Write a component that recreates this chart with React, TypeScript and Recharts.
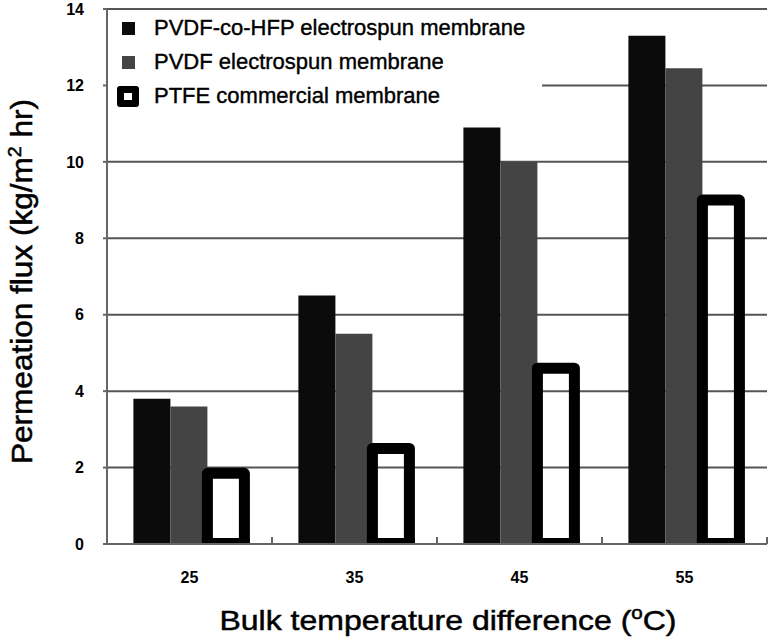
import { BarChart, Bar, XAxis, YAxis, CartesianGrid, Legend, Label } from "recharts";

const temps = ["25", "35", "45", "55"];
const copolymer = [3.8, 6.5, 10.9, 13.3];
const pvdf = [3.6, 5.5, 10.0, 12.45];
const ptfe = [1.85, 2.5, 4.6, 9.0];
const yTicks = [0, 2, 4, 6, 8, 10, 12, 14];

const seriesNames = [
  "PVDF-co-HFP electrospun membrane",
  "PVDF electrospun membrane",
  "PTFE commercial membrane",
];

const data = temps.map((t, i) => ({
  temp: t,
  copolymer: copolymer[i],
  pvdf: pvdf[i],
  ptfe: ptfe[i],
}));

const FONT = "'Liberation Sans', Arial, sans-serif";

function LegendBox() {
  const marker = (i: number) => {
    if (i === 2) {
      return (
        <div style={{ width: 8, height: 7, border: "7px solid #000", borderRadius: 3, background: "#fff" }} />
      );
    }
    return <div style={{ width: 13, height: 13, background: i === 0 ? "#0b0b0b" : "#444" }} />;
  };
  return (
    <div style={{ width: 434, height: 100, background: "#fff", position: "relative", fontFamily: FONT }}>
      {seriesNames.map((name, i) => (
        <div
          key={name}
          style={{ position: "absolute", left: 0, top: 1 + i * 34, height: 30, display: "flex", alignItems: "center" }}
        >
          <div style={{ width: 48, display: "flex", justifyContent: "center", marginLeft: -4 }}>{marker(i)}</div>
          <span
            style={{
              fontSize: 22,
              color: "#000",
              marginLeft: 2,
              whiteSpace: "nowrap",
              WebkitTextStroke: "0.4px #000",
            }}
          >
            {name}
          </span>
        </div>
      ))}
    </div>
  );
}

// outline bar whose bottom edge stays above the axis line
function PtfeShape(props: any) {
  const { x, y, width, height } = props;
  const s = 11;
  return (
    <g>
      <path
        d={`M${x},${y + height} L${x},${y} L${x + width},${y} L${x + width},${y + height}`}
        fill="none"
        stroke="#000"
        strokeWidth={s}
        strokeLinejoin="round"
      />
      <rect x={x - s / 2} y={y + height - 6} width={width + s} height={6} fill="#000" />
    </g>
  );
}

function XTicks(props: any) {
  const { x, y, payload } = props;
  const axisY = y - 28;
  const edge = x + (payload.offset || 0);
  return (
    <g>
      <line x1={edge} x2={edge} y1={axisY} y2={axisY - 7} stroke="#666" strokeWidth={2} />
      <text
        x={x}
        y={y}
        dy="0.71em"
        textAnchor="middle"
        fontFamily={FONT}
        fontSize={16}
        fontWeight="bold"
        fill="#000"
      >
        {payload.value}
      </text>
    </g>
  );
}

function YTitle(props: any) {
  const { viewBox } = props;
  const cy = viewBox.y + viewBox.height / 2 + 5;
  const bx = 32;
  return (
    <text
      x={bx}
      y={cy}
      transform={`rotate(-90, ${bx}, ${cy})`}
      textAnchor="middle"
      fontFamily={FONT}
      fontSize={29}
      textLength={365}
      lengthAdjust="spacingAndGlyphs"
      fill="#000"
      stroke="#000"
      strokeWidth={0.5}
    >
      Permeation flux (kg/m
      <tspan fontSize={18} dy={-11}>2</tspan>
      <tspan dy={11}> hr)</tspan>
    </text>
  );
}

function XTitle(props: any) {
  const { viewBox } = props;
  const cx = viewBox.x + viewBox.width / 2 + 11;
  return (
    <text
      x={cx}
      y={630}
      textAnchor="middle"
      fontFamily={FONT}
      fontSize={28}
      textLength={457}
      lengthAdjust="spacingAndGlyphs"
      fill="#000"
      stroke="#000"
      strokeWidth={0.5}
    >
      Bulk temperature difference (
      <tspan fontSize={18} dy={-11}>o</tspan>
      <tspan dy={11}>C)</tspan>
    </text>
  );
}

export default function App() {
  return (
    <div style={{ position: "absolute", left: 0, top: 0, background: "#fff" }}>
      <BarChart
        width={773}
        height={643}
        data={data}
        margin={{ top: 9, right: 6, left: 0, bottom: 0 }}
        barCategoryGap="16%"
        barGap={0}
      >
        <CartesianGrid vertical={false} stroke="#555" strokeWidth={2} />
        <XAxis
          dataKey="temp"
          height={99}
          tickLine={false}
          tickSize={0}
          tickMargin={28}
          axisLine={{ stroke: "#666", strokeWidth: 2 }}
          tick={<XTicks />}
        >
          <Label content={<XTitle />} />
        </XAxis>
        <YAxis
          width={107}
          domain={[0, 14]}
          ticks={yTicks}
          interval={0}
          tickSize={4}
          tickMargin={19}
          tickLine={{ stroke: "#666", strokeWidth: 2 }}
          axisLine={{ stroke: "#666", strokeWidth: 2 }}
          tick={{ fill: "#000", fontSize: 16, fontWeight: "bold", fontFamily: FONT }}
        >
          <Label content={<YTitle />} />
        </YAxis>
        <Legend
          layout="vertical"
          align="center"
          verticalAlign="middle"
          wrapperStyle={{ left: 108, top: 12, width: 434, height: 100 }}
          content={<LegendBox />}
        />
        <Bar dataKey="copolymer" fill="#0b0b0b" isAnimationActive={false} />
        <Bar dataKey="pvdf" fill="#444" isAnimationActive={false} />
        <Bar dataKey="ptfe" shape={<PtfeShape />} isAnimationActive={false} />
      </BarChart>
    </div>
  );
}
